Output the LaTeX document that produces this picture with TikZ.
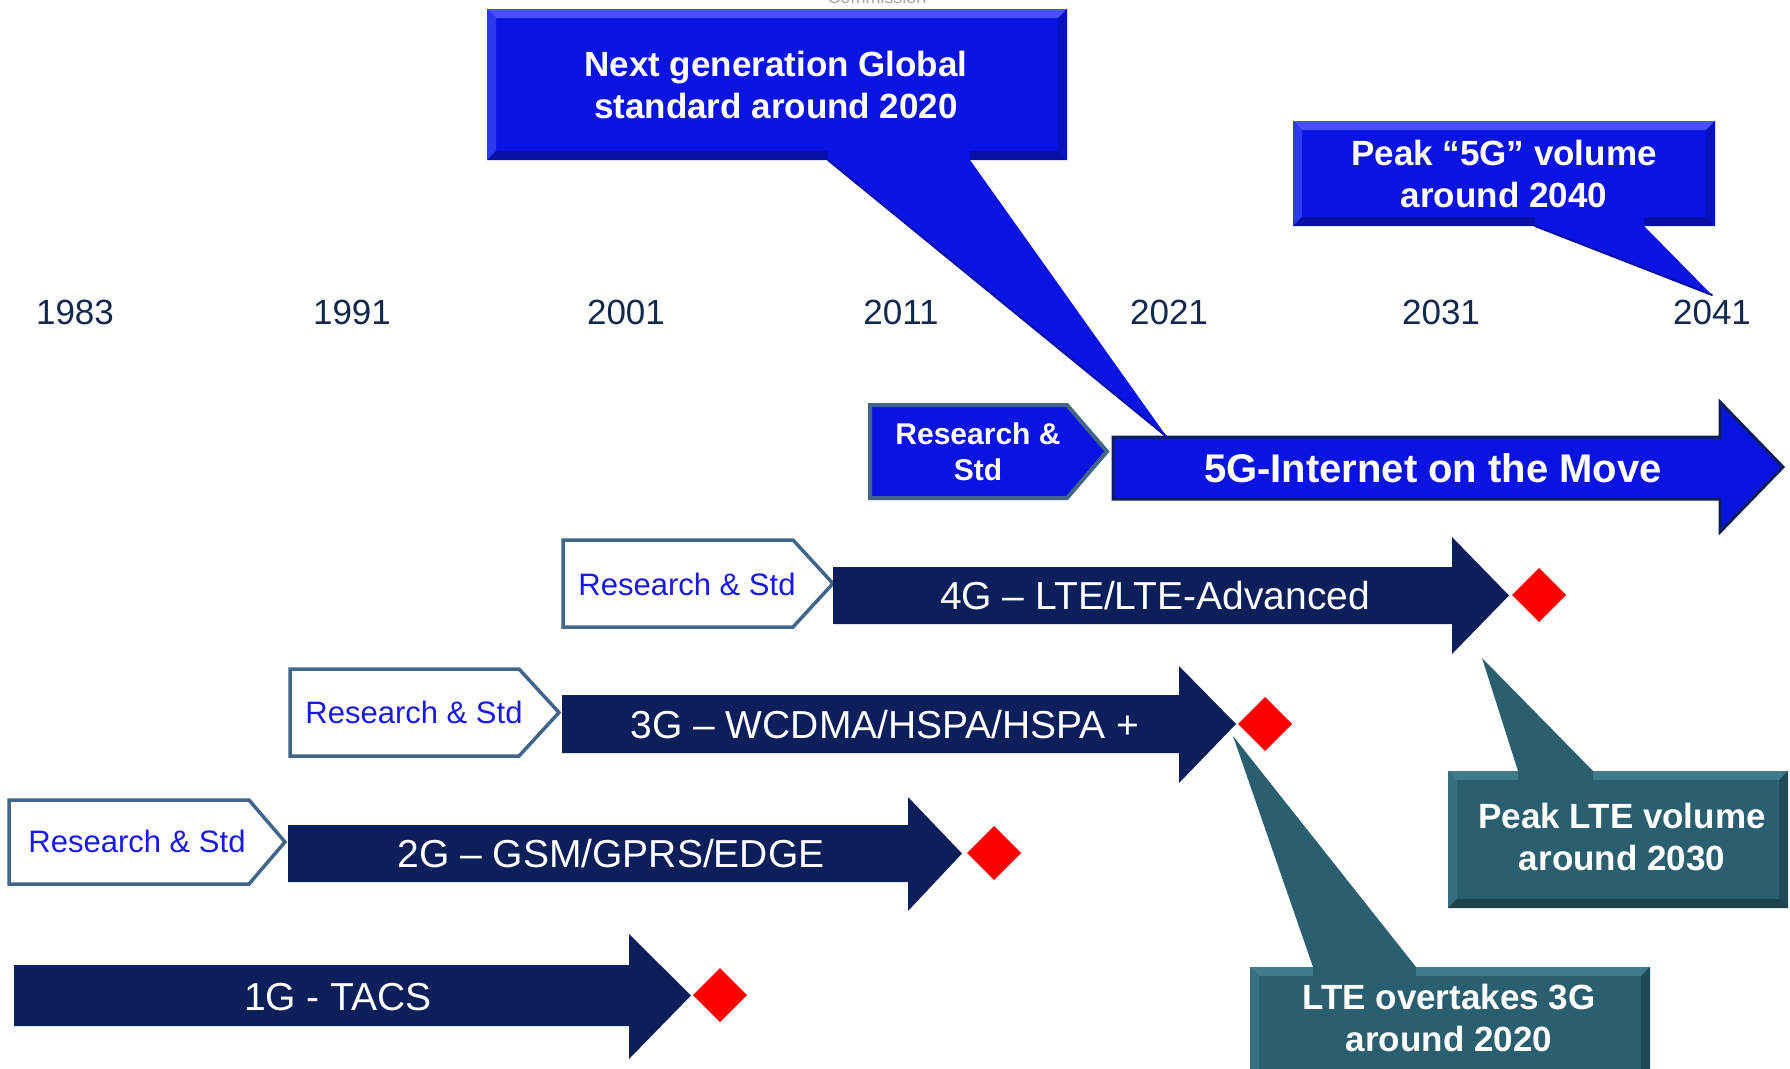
\documentclass[tikz,border=0pt]{standalone}
\usepackage{fontspec}
\setmainfont{Liberation Sans}
\definecolor{navy}{HTML}{0C1F5A}
\definecolor{vblue}{HTML}{0A14E2}
\definecolor{vbluelt}{HTML}{4652F6}
\definecolor{vbluedk}{HTML}{0810A8}
\definecolor{teal}{HTML}{295F6E}
\definecolor{teallt}{HTML}{3F7B8B}
\definecolor{tealdk}{HTML}{1B424D}
\definecolor{rsborder}{HTML}{44658A}
\definecolor{rsblue}{HTML}{1A1AE6}
\definecolor{yearc}{HTML}{13284F}
\newcommand\calbox[7]{%
  \fill[#5] (#1,#2) rectangle (#3,#4);
  \fill[#6] (#1,#2) -- (#3,#2) -- (#3-9,#2+9) -- (#1+9,#2+9) -- cycle;
  \fill[#6!60!#5] (#1,#2) -- (#1+9,#2+9) -- (#1+9,#4-9) -- (#1,#4) -- cycle;
  \fill[#7!70!#5] (#3,#2) -- (#3,#4) -- (#3-9,#4-9) -- (#3-9,#2+9) -- cycle;
  \fill[#7] (#1,#4) -- (#3,#4) -- (#3-9,#4-9) -- (#1+9,#4-9) -- cycle;
}
\begin{document}
\begin{tikzpicture}[x=1pt,y=-1pt,
  navyarrow/.style={fill=navy},
  rsbox/.style={fill=white, draw=rsborder, line width=3.5pt, line join=miter},
  rsboxfill/.style={fill=vblue, draw=rsborder, line width=4pt, line join=miter},
  diam/.style={fill=red},
  yearlbl/.style={text=yearc, font=\fontsize{35}{42}\selectfont, inner sep=0pt},
  genlbl/.style={text=white, font=\fontsize{39}{46}\selectfont, inner sep=0pt},
  calltext/.style={text=white, font=\bfseries\fontsize{35}{42}\selectfont, align=center, inner sep=0pt},
  rstext/.style={text=rsblue, font=\fontsize{31}{36}\selectfont, inner sep=0pt},
  rstextb/.style={text=white, font=\bfseries\fontsize{30}{36}\selectfont, align=center, inner sep=0pt}
]
\useasboundingbox (0,0) rectangle (1790,1068);
\fill[white] (0,0) rectangle (1790,1068);

% cut-off header text
\node[anchor=base, text=gray!70, font=\fontsize{18}{20}\selectfont, inner sep=0pt] (hdr) at (877,3) {Commission};

% years
\node[yearlbl] (y1983) at (75,312) {1983};
\node[yearlbl] (y1991) at (352,312) {1991};
\node[yearlbl] (y2001) at (626,312) {2001};
\node[yearlbl] (y2011) at (901,312) {2011};
\node[yearlbl] (y2021) at (1169,312) {2021};
\node[yearlbl] (y2031) at (1441,312) {2031};
\node[yearlbl] (y2041) at (1712,312) {2041};

% 1G
\fill[navyarrow] (14,965) -- (629,965) -- (629,934) -- (691,995.5) -- (629,1059) -- (629,1026) -- (14,1026) -- cycle;
\node[genlbl] (g1) at (338,997) {1G - TACS};
\fill[diam] (693,995) -- (720,968) -- (747,995) -- (720,1022) -- cycle;

% 2G
\path[rsbox] (9,800) -- (249,800) -- (285,842) -- (249,884) -- (9,884) -- cycle;
\node[rstext] (rs2) at (137,841) {Research \& Std};
\fill[navyarrow] (288,825) -- (908,825) -- (908,797) -- (962,853.5) -- (908,911) -- (908,882) -- (288,882) -- cycle;
\node[genlbl] (g2) at (611,854) {2G – GSM/GPRS/EDGE};
\fill[diam] (967,853) -- (994,826) -- (1021,853) -- (994,880) -- cycle;

% 3G
\path[rsbox] (290,669) -- (519,669) -- (559,712.5) -- (519,756) -- (290,756) -- cycle;
\node[rstext] (rs3) at (414,712) {Research \& Std};
\fill[navyarrow] (562,695) -- (1179,695) -- (1179,666) -- (1236,724) -- (1179,783) -- (1179,753) -- (562,753) -- cycle;
\node[genlbl] (g3) at (885,725) {3G – WCDMA/HSPA/HSPA +};
\fill[diam] (1238,724) -- (1265,697) -- (1292,724) -- (1265,751) -- cycle;

% 4G
\path[rsbox] (563,540) -- (793,540) -- (833,583.5) -- (793,627) -- (563,627) -- cycle;
\node[rstext] (rs4) at (687,584) {Research \& Std};
\fill[navyarrow] (833,567) -- (1452,567) -- (1452,537) -- (1509,595.5) -- (1452,654) -- (1452,624) -- (833,624) -- cycle;
\node[genlbl] (g4) at (1155,596) {4G – LTE/LTE-Advanced};
\fill[diam] (1512,595) -- (1539,568) -- (1566,595) -- (1539,622) -- cycle;

% 5G
\path[rsboxfill] (870,405) -- (1067,405) -- (1107,451.5) -- (1067,498) -- (870,498) -- cycle;
\node[rstextb] (rs5) at (978,452) {Research \&\\Std};
\path[fill=vblue, draw=navy, line width=3pt, line join=miter] (1113,437) -- (1720,437) -- (1720,402) -- (1783,467) -- (1720,532) -- (1720,499) -- (1113,499) -- cycle;
\node[text=white, font=\bfseries\fontsize{40}{46}\selectfont, inner sep=0pt] (g5) at (1433,468) {5G-Internet on the Move};

% callout: next generation
\calbox{487}{9}{1067}{160}{vblue}{vbluelt}{vbluedk}
\fill[vblue] (828,151) -- (828,160) -- (1167,437) -- (970,160) -- (970,151) -- cycle;
\draw[vbluedk, line width=2pt, line cap=round] (828,160) -- (1167,437);
\node[calltext] (c1) at (776,85) {Next generation Global\\standard around 2020};

% callout: peak 5G
\calbox{1293}{121}{1715}{226}{vblue}{vbluelt}{vbluedk}
\fill[vblue] (1535,217) -- (1535,226) -- (1712,295) -- (1644,226) -- (1644,217) -- cycle;
\draw[vbluedk, line width=2pt, line cap=round] (1535,226) -- (1712,295);
\node[calltext] (c2) at (1504,174) {Peak “5G” volume\\around 2040};

% callout: peak LTE
\calbox{1448}{771}{1788}{908}{teal}{teallt}{tealdk}
\fill[teal] (1518,780) -- (1518,771) -- (1482,658) -- (1593,771) -- (1593,780) -- cycle;
\node[calltext] (c3) at (1622,837) {Peak LTE volume\\around 2030};

% callout: LTE overtakes
\calbox{1250}{967}{1650}{1085}{teal}{teallt}{tealdk}
\fill[teal] (1313,976) -- (1313,967) -- (1233,736) -- (1416,967) -- (1416,976) -- cycle;
\node[calltext] (c4) at (1449,1018) {LTE overtakes 3G\\around 2020};
\end{tikzpicture}
\end{document}
